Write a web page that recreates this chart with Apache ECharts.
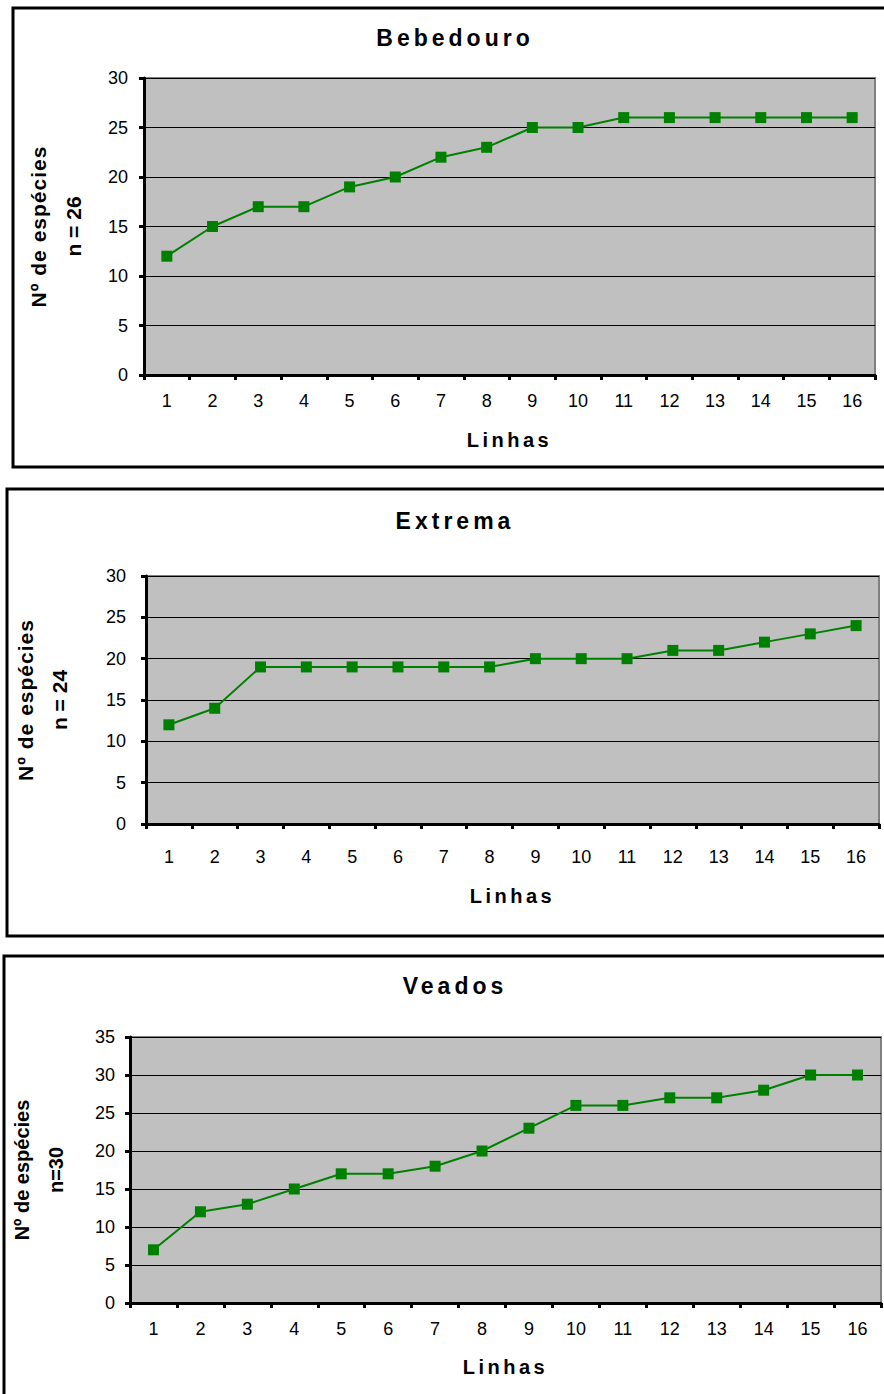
<!DOCTYPE html>
<html><head><meta charset="utf-8">
<script src="https://cdn.jsdelivr.net/npm/echarts@6/dist/echarts.min.js"></script>
<style>html,body{margin:0;padding:0;background:#fff}#c{width:884px;height:1394px}</style>
</head><body><div id="c"></div>
<script>
const categories = ['1','2','3','4','5','6','7','8','9','10','11','12','13','14','15','16'];
const titles = ['Bebedouro', 'Extrema', 'Veados'];
const yNames = ['Nº de espécies\nn = 26', 'Nº de espécies\nn = 24', 'Nº de espécies\nn=30'];
const xName = 'Linhas';
const bebedouro = [12,15,17,17,19,20,22,23,25,25,26,26,26,26,26,26];
const extrema = [12,14,19,19,19,19,19,19,20,20,20,21,21,22,23,24];
const veados = [7,12,13,15,17,17,18,20,23,26,26,27,27,28,30,30];
const yMax = [30, 30, 35];
const seriesData = [bebedouro, extrema, veados];

const font = 'Liberation Sans, Arial, sans-serif';
const grids = [
  {left:144, top:78, right:9, height:297},
  {left:146, top:576, right:5, height:248},
  {left:130, top:1037, right:3, height:266}
];
const titleTop = [21, 504, 969];
const xMargin = [17, 24, 17];
const xNameGap = [55, 62, 54];
const yMargin = [16, 20, 15];
const yNameGap = [53, 70, 57];
const yNameSize = [21, 21, 20];
const yNameLH = [35, 34, 34];
const frames = [
  {x:13, y:8, h:459},
  {x:7, y:489, h:447},
  {x:4, y:956, h:460}
];

const chart = echarts.init(document.getElementById('c'), null, {renderer:'svg'});
const option = {
  animation:false,
  backgroundColor:'#fff',
  title: titles.map((t,i)=>({text:t, left:450, top:titleTop[i], textAlign:'center',
    textStyle:{fontFamily:font, fontWeight:'bold', fontSize:23, color:'#000'}})),
  graphic: frames.map(f=>({type:'rect', shape:{x:f.x, y:f.y, width:900, height:f.h},
    style:{fill:null, stroke:'#000', lineWidth:3}, z:-1, silent:true})),
  grid: grids.map(g=>Object.assign({show:true, backgroundColor:'#c0c0c0', borderColor:'#808080', borderWidth:2,
    containLabel:false, outerBoundsMode:'none'}, g)),
  xAxis: grids.map((g,i)=>({type:'category', gridIndex:i, data:categories, boundaryGap:true,
    name:xName, nameLocation:'middle', nameGap:xNameGap[i],
    nameTextStyle:{fontFamily:font, fontWeight:'bold', fontSize:20, color:'#000'},
    axisLine:{show:true, lineStyle:{color:'#000', width:3}},
    axisTick:{show:true, alignWithLabel:false, length:5, lineStyle:{color:'#000', width:3}},
    axisLabel:{fontFamily:font, fontSize:18, color:'#000', margin:xMargin[i], interval:0},
    splitLine:{show:false}})),
  yAxis: grids.map((g,i)=>({type:'value', gridIndex:i, min:0, max:yMax[i], interval:5,
    name:yNames[i], nameLocation:'middle', nameRotate:90, nameGap:yNameGap[i],
    nameTextStyle:{fontFamily:font, fontWeight:'bold', fontSize:yNameSize[i], color:'#000', lineHeight:yNameLH[i]},
    axisLine:{show:true, lineStyle:{color:'#000', width:3}},
    axisTick:{show:true, length:5, lineStyle:{color:'#000', width:3}},
    axisLabel:{fontFamily:font, fontSize:18, color:'#000', margin:yMargin[i]},
    splitLine:{show:true, lineStyle:{color:'#000', width:1}}})),
  series: seriesData.map((d,i)=>({type:'line', xAxisIndex:i, yAxisIndex:i, data:d,
    symbol:'rect', symbolSize:11, showSymbol:true,
    lineStyle:{color:'#008000', width:2},
    itemStyle:{color:'#008000', borderWidth:0}}))
};
chart.setOption(option);

// Excel-like wide letter spacing on titles and axis names
function spaceOut(){
  document.querySelectorAll('#c text').forEach(t=>{
    const s = t.textContent;
    if (titles.indexOf(s) >= 0) t.style.letterSpacing = '4px';
    else if (s === xName) t.style.letterSpacing = '3.5px';
    else if (s === 'Nº de espécies' && parseFloat(getComputedStyle(t).fontSize) > 20) t.style.letterSpacing = '1px';
  });
}
spaceOut();
chart.on('finished', spaceOut);
</script></body></html>
